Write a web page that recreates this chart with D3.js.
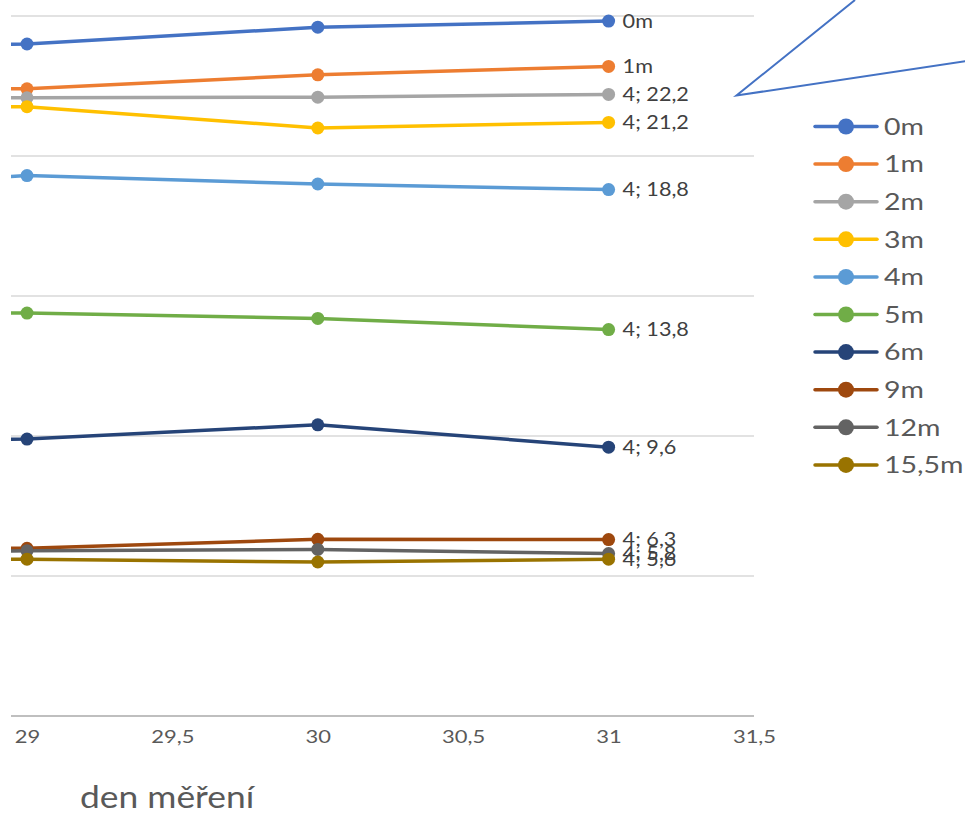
<!DOCTYPE html>
<html><head><meta charset="utf-8">
<script src="https://cdn.jsdelivr.net/npm/d3@7"></script>
<style>body{margin:0;background:#fff}svg{display:block}text{font-family:Lato,"Open Sans",sans-serif}</style>
</head><body><svg id="c" width="965" height="813"></svg>
<script>
const days = [28, 29, 30, 31];
const seriesNames = ["0m","1m","2m","3m","4m","5m","6m","9m","12m","15,5m"];
const colors = ["#4472C4","#ED7D31","#A5A5A5","#FFC000","#5B9BD5","#70AD47","#264478","#9E480E","#636363","#997300"];
const v0 = [23.8, 24.0, 24.6, 24.82];
const v1 = [22.4, 22.4, 22.9, 23.2];
const v2 = [22.1, 22.08, 22.1, 22.2];
const v3 = [21.7, 21.76, 21.0, 21.2];
const v4 = [18.7, 19.3, 19.0, 18.8];
const v5 = [14.4, 14.39, 14.2, 13.8];
const v6 = [9.85, 9.89, 10.4, 9.6];
const v9 = [5.95, 5.99, 6.31, 6.3];
const v12 = [5.85, 5.9, 5.95, 5.8];
const v155 = [5.6, 5.6, 5.5, 5.6];
const seriesValues = [v0,v1,v2,v3,v4,v5,v6,v9,v12,v155];
const pointLabels = ["0m","1m","4; 22,2","4; 21,2","4; 18,8","4; 13,8","4; 9,6","4; 6,3","4; 5,8","4; 5,6"];
const xTicks = [29, 29.5, 30, 30.5, 31, 31.5];
const yGrid = [0, 5, 10, 15, 20, 25];
const xTitle = "den měření";

const svg = d3.select("#c");
const x = d3.scaleLinear().domain([29, 31.5]).range([27, 754]);
const y = d3.scaleLinear().domain([0, 25]).range([716, 16]);
const fmt = d => String(d).replace(".", ",");
const SX = 1.2;

function stext(parent, px, py, s, sx) {
  return parent.append("text").attr("transform", `translate(${px},${py}) scale(${sx},1)`).text(s);
}

svg.append("defs").append("clipPath").attr("id","pc")
  .append("rect").attr("x",11).attr("y",0).attr("width",760).attr("height",716);

// gridlines
svg.append("g").selectAll("line").data(yGrid).join("line")
  .attr("x1",11).attr("x2",754).attr("y1",d=>y(d)).attr("y2",d=>y(d))
  .attr("stroke",d=>d===0?"#BFBFBF":"#D9D9D9").attr("stroke-width",d=>d===0?2:1.5);

// x axis labels
const xa = d3.axisBottom(x).tickValues(xTicks).tickFormat(fmt).tickSize(0).tickPadding(14);
const gx = svg.append("g").attr("transform","translate(0,716)").call(xa);
gx.select(".domain").remove();
gx.selectAll("text").attr("font-size",18).attr("fill","#595959").attr("font-family","Lato")
  .attr("transform","scale(1.22,1)");

// lines
const line = d3.line().x((d,i)=>x(days[i])).y(d=>y(d));
const plot = svg.append("g").attr("clip-path","url(#pc)");
seriesValues.forEach((vals,k)=>{
  plot.append("path").datum(vals).attr("d",line).attr("fill","none")
    .attr("stroke",colors[k]).attr("stroke-width",3.5).attr("stroke-linejoin","round");
});
seriesValues.forEach((vals,k)=>{
  plot.selectAll(null).data(vals).join("circle")
    .attr("cx",(d,i)=>x(days[i])).attr("cy",d=>y(d)).attr("r",6.5).attr("fill",colors[k]);
});
// data labels
seriesValues.forEach((vals,k)=>{
  const last = vals[vals.length-1];
  stext(svg, x(days[days.length-1])+14, y(last), pointLabels[k], 1.17)
    .attr("dy","0.35em").attr("font-size",18.5).attr("fill","#404040");
});

// callout shape
svg.append("path").attr("d", d3.line()([[855,0],[736.5,95.5],[966,61]]))
  .attr("fill","none").attr("stroke","#4472C4").attr("stroke-width",2);

// legend
const lg = svg.append("g");
seriesNames.forEach((n,k)=>{
  const yy = 126.5 + k*37.6;
  lg.append("line").attr("x1",815).attr("x2",877).attr("y1",yy).attr("y2",yy)
    .attr("stroke",colors[k]).attr("stroke-width",3.5).attr("stroke-linecap","round");
  lg.append("circle").attr("cx",846).attr("cy",yy).attr("r",8).attr("fill",colors[k]);
  stext(lg, 884, yy, n, 1.24).attr("dy","0.36em").attr("font-size",23).attr("fill","#595959");
});

// axis title
stext(svg, 80, 808, xTitle, 1.18).attr("font-size",30).attr("fill","#595959");
</script></body></html>
